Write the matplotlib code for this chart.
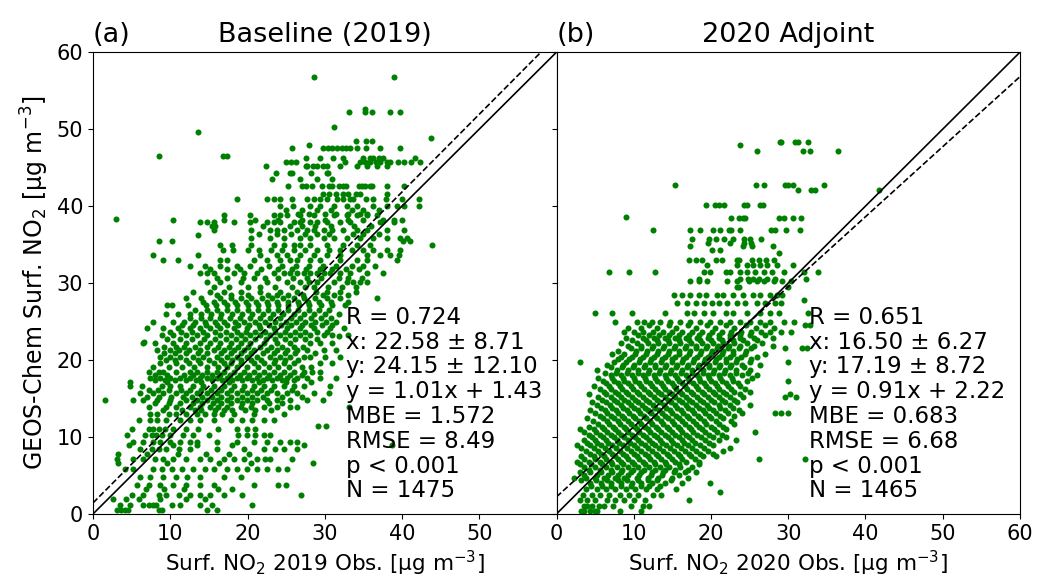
import matplotlib
matplotlib.use('Agg')
import matplotlib.pyplot as plt
import numpy as np

gc_levels_2019 = [0.5, 1.2, 2.0, 2.5, 3.2, 3.8, 4.8, 5.9, 6.6, 7.1, 7.8, 8.4, 9.0, 9.4, 10.2,
                  11.0, 11.4, 12.2, 13.0, 13.9, 14.8, 15.7, 16.6, 17.1, 17.6, 18.5, 19.6, 20.4,
                  21.3, 22.2, 22.4, 23.1, 23.2, 24.1, 25.0, 26.0, 27.1, 28.0, 28.9, 30.1, 31.3,
                  32.2, 33.0, 33.6, 34.3, 35.0, 35.5, 35.8, 36.2, 36.9, 37.4, 37.9, 38.2, 38.3,
                  38.8, 39.0, 40.0, 40.9, 41.6, 42.6, 43.5, 44.3, 45.2, 45.7, 46.3, 46.5, 47.6,
                  48.0, 48.5, 48.8, 49.6, 50.3, 52.2, 52.6, 56.8,
                  # in-between rows of the dense core
                  13.45, 14.35, 15.25, 16.15, 17.35, 18.05, 19.05, 20.0, 20.85, 21.75, 22.7,
                  23.65, 24.55, 25.5, 26.55, 27.55, 28.45, 29.5, 30.7, 31.8, 36.35, 37.35, 39.5]
obs_rows_2019 = [
    [3.1, 3.6, 4.1, 4.5, 8.5, 8.9, 14.7, 16.0],
    [3.5, 4.8, 6.5, 7.2, 7.8, 8.2, 10.2, 11.3, 13.9, 15.4, 20.6],
    [2.6, 4.3, 6.0, 8.7, 12.0, 14.5],
    [5.0, 6.5, 8.5, 9.5, 11.1, 12.6, 13.9, 15.2, 16.9, 19.3, 26.9],
    [6.8, 9.2, 11.8, 16.2, 18.0],
    [5.7, 7.2, 8.7, 10.4, 12.1, 13.9, 15.6, 20.8, 24.0, 25.0],
    [6.1, 7.4, 9.1, 10.8, 12.2, 13.9, 16.9, 19.1],
    [4.1, 5.2, 7.8, 8.9, 10.2, 11.5, 13.0, 14.5, 15.6, 17.3, 18.6, 19.9, 21.2, 22.5, 24.0, 25.1],
    [3.2, 9.6, 16.3, 20.5, 28.5],
    [3.1, 5.2, 6.5, 8.0, 9.1, 10.4, 12.1, 13.9, 15.2, 16.9, 18.2, 19.5, 21.2, 22.3, 22.9, 25.7],
    [3.2, 7.0, 11.0, 14.6, 17.6, 20.2],
    [6.1, 7.6, 8.5, 9.5, 11.1, 12.6, 16.0, 19.5, 22.1, 23.6, 24.7, 26.4],
    [4.6, 10.3, 13.5, 18.0, 27.3, 38.7],
    [5.2, 6.5, 7.8, 8.7, 10.0, 11.3, 12.6, 13.4, 16.0, 18.6, 20.8, 22.5, 24.2, 25.5, 26.4],
    [4.4, 6.7, 7.6, 8.2, 8.9, 10.0, 11.7, 13.0, 15.0, 18.8, 19.9, 21.0, 22.1, 22.9],
    [5.0, 7.2, 7.8, 8.5, 9.3, 10.4, 12.1, 13.6, 16.2, 18.6, 19.9, 21.0],
    [29.1, 30.2],
    [5.9, 7.4, 8.3, 9.5, 11.3, 12.6, 13.9, 15.6, 17.8, 19.3, 20.6, 22.1, 23.4],
    [7.4, 8.3, 9.8, 10.8, 12.1, 13.4, 14.5, 15.6, 16.7, 18.2, 20.8, 24.7],
    [7.2, 9.5, 10.8, 12.6, 13.9, 15.2, 16.2, 17.3, 19.1, 20.4, 22.1, 23.8, 25.5, 26.4, 33.1],
    [1.55, 5.2, 6.5, 8.3, 10.0, 12.1, 13.4, 14.7, 16.0, 17.3, 18.6, 19.9, 21.2, 22.5, 23.8, 25.5, 27.7, 29.8],
    [6.1, 7.8, 9.1, 10.8, 12.1, 13.4, 14.7, 16.0, 17.3, 18.6, 19.9, 21.2, 22.5, 23.8, 25.1, 26.4, 28.6, 30.5],
    [4.8, 6.3, 8.9, 10.0, 11.3, 13.0, 14.3, 15.6, 16.9, 18.2, 19.5, 20.8, 22.1, 23.4, 24.7, 26.0, 27.3, 30.7],
    [4.8, 9.6, 14.0, 17.6, 21.5, 25.0, 28.2],
    [7.4, 8.7, 10.0, 11.3, 12.6, 13.9, 14.7, 16.0, 17.3, 18.6, 19.9, 21.2, 22.5, 23.8, 25.1, 26.4, 27.7, 29.4, 31.5],
    [7.2, 8.5, 9.1, 10.8, 12.6, 13.4, 14.7, 16.0, 16.9, 18.2, 19.5, 20.8, 22.1, 23.4, 24.7, 26.0, 27.3, 28.4, 29.4],
    [8.7, 10.8, 12.4, 13.9, 15.6, 16.9, 17.8, 19.1, 20.8, 22.1, 23.4, 24.7, 26.0, 29.4, 31.0],
    [8.7, 10.0, 11.3, 13.0, 14.3, 16.0, 17.3, 18.6, 19.9, 21.2, 22.9, 24.2, 25.5, 27.3, 28.1, 30.0, 32.0],
    [8.3, 10.0, 11.1, 12.4, 13.9, 15.6, 16.9, 18.2, 19.5, 20.8, 22.5, 23.8, 25.1, 26.4, 27.7, 29.9, 31.5],
    [6.5, 8.0, 10.4, 12.1, 13.9, 15.2, 16.5, 17.8, 19.1, 20.3, 22.1, 23.8, 25.5, 28.1, 29.4, 31.0],
    [6.6],
    [31.8],
    [8.9, 10.4, 12.1, 13.4, 14.7, 16.5, 17.8, 19.1, 20.3, 21.6, 22.9, 24.2, 25.5, 26.8, 28.1, 29.9, 31.0, 33.0],
    [7.0, 9.0, 11.0, 12.5, 13.9, 15.2, 16.5, 18.2, 19.9, 21.6, 23.4, 25.1, 26.8, 28.6, 30.7, 32.5],
    [7.8, 10.3, 11.8, 13.2, 14.5, 15.8, 17.0, 18.4, 19.6, 21.0, 22.3, 23.6, 25.0, 26.3, 27.5, 28.8, 30.2, 31.4],
    [9.5, 11.0, 12.5, 14.0, 15.3, 16.6, 18.0, 19.3, 20.6, 22.0, 23.3, 24.6, 26.0, 27.3, 28.6, 30.0, 31.8],
    [9.6, 10.2, 12.3, 14.6, 15.9, 17.3, 18.6, 20.0, 21.3, 22.7, 24.0, 25.3, 26.7, 28.0, 29.5, 31.0, 32.6],
    [12.0, 14.0, 16.5, 17.8, 19.2, 20.5, 21.9, 23.2, 24.6, 26.0, 27.3, 28.7, 30.3, 32.0, 36.8],
    [13.0, 15.2, 16.9, 19.1, 21.6, 24.2, 26.4, 28.9, 30.3, 32.0, 34.0],
    [14.7, 16.5, 19.1, 22.5, 25.1, 26.8, 28.0, 29.0, 31.2, 32.9, 33.7, 34.6, 35.5],
    [13.9, 14.7, 15.6, 18.2, 19.5, 21.2, 23.4, 24.7, 25.5, 26.4, 27.3, 28.1, 29.0, 29.9, 30.7, 32.0, 33.3, 35.5, 37.6],
    [12.5, 14.5, 16.4, 18.6, 20.3, 22.8, 24.5, 26.3, 28.0, 29.8, 31.5, 33.5, 35.0, 36.5],
    [9.0, 11.0, 16.5, 17.3, 20.8, 22.5, 24.2, 25.5, 26.4, 28.1, 29.4, 32.0, 34.2, 35.5, 39.4],
    [7.8, 13.6, 21.6, 23.8, 25.1, 26.8, 28.6, 30.3, 32.0, 35.5, 37.2, 38.5, 39.6],
    [16.8, 18.1, 20.0, 21.5, 23.0, 24.5, 26.0, 27.5, 29.0, 30.5, 32.0, 33.5, 34.9, 36.2, 38.0, 39.8],
    [16.5, 18.0, 20.4, 23.4, 24.7, 26.0, 26.8, 28.1, 30.3, 32.4, 34.2, 35.9, 43.9],
    [8.5, 10.2, 40.1, 41.0],
    [20.4, 22.9, 24.7, 26.8, 28.1, 29.9, 31.2, 32.9, 34.6, 36.3, 38.1, 39.8, 40.7],
    [13.6],
    [15.6, 20.4, 22.9, 23.8, 24.7, 26.4, 27.7, 28.6, 29.9, 31.0, 32.4, 34.2, 35.5, 38.1, 40.2],
    [15.4, 15.8],
    [13.9, 14.7, 15.6, 18.2, 20.3, 22.5, 23.4, 24.2, 26.0, 26.8, 28.1, 29.0, 30.3, 32.0, 33.3, 37.2, 38.9],
    [10.4, 16.9, 21.0, 24.0, 27.0, 30.0, 33.0, 35.0, 37.5, 39.0, 40.0],
    [3.0],
    [16.9, 20.3, 23.4, 24.2, 25.1, 26.8, 28.6, 31.2, 32.9, 34.2, 35.5, 36.8],
    [26.5, 28.0, 30.0, 31.5, 33.0, 34.5, 35.5],
    [24.2, 25.9, 28.1, 29.4, 31.2, 32.9, 34.2, 36.3, 38.1, 39.4, 40.2, 42.2],
    [18.6, 22.5, 23.4, 24.2, 25.8, 27.7, 28.6, 29.4, 30.3, 31.6, 32.4, 33.3, 33.7, 35.3, 36.3, 37.9, 40.0, 42.2],
    [29.8, 30.5, 31.5, 32.3, 33.0, 34.0, 34.5, 38.0],
    [25.2, 27.0, 27.6, 28.3, 29.6, 30.5, 31.0, 31.8, 32.3, 32.7, 34.4, 34.8, 35.2, 35.9, 36.1, 38.1, 40.2],
    [23.2, 26.8, 29.0, 31.0],
    [23.7, 25.5, 25.7, 28.2, 30.3, 30.4],
    [22.4, 27.6, 27.7, 28.5, 29.0, 29.8, 30.3, 32.0, 34.2, 35.5, 36.8, 38.1],
    [25.0, 25.6, 26.3, 32.6, 34.5, 35.2, 35.9, 36.6, 37.2, 38.0, 38.4, 39.5, 40.3, 41.2, 42.3],
    [27.6, 29.4, 31.1, 32.4, 35.0, 35.8, 36.3, 37.0, 37.6, 41.7],
    [8.5, 16.8, 17.4],
    [25.7, 29.8, 30.4, 31.0, 31.6, 32.2, 32.8, 33.3, 34.2, 35.3, 37.2, 39.8],
    [28.0],
    [34.0, 35.3, 36.1],
    [43.8],
    [13.6],
    [31.2],
    [33.1, 35.2, 36.1, 38.4, 39.8],
    [35.2],
    [28.6, 39.0],
    # in-between rows of the dense core
    [9.0, 11.5, 13.2, 14.0, 15.8, 17.0, 18.0, 19.7, 21.0, 23.0],
    [8.0, 9.8, 11.3, 12.9, 14.1, 15.5, 16.6, 17.9, 19.3, 20.6, 22.8, 24.5],
    [7.0, 8.6, 10.1, 11.6, 12.8, 14.1, 15.4, 16.6, 17.9, 19.3, 20.6, 22.0, 24.4, 27.0],
    [7.2, 8.4, 9.8, 11.4, 12.6, 14.0, 15.3, 16.6, 17.9, 19.3, 20.6, 21.8, 23.0, 25.8],
    [8.0, 9.3, 10.6, 12.0, 13.3, 15.4, 16.7, 18.0, 19.3, 20.6, 22.0, 23.2, 24.4, 26.0],
    [8.0, 9.6, 11.8, 13.0, 14.1, 15.4, 16.4, 17.7, 19.0, 20.2, 21.5, 22.8, 24.2, 25.5, 27.0],
    [7.8, 9.8, 11.5, 13.1, 14.8, 16.2, 17.4, 18.6, 19.9, 21.4, 22.8, 24.0, 25.4, 27.0, 28.2],
    [9.4, 10.6, 12.0, 13.6, 15.0, 16.6, 18.0, 19.2, 20.5, 21.8, 23.5, 24.9, 26.5],
    [9.2, 10.6, 12.0, 13.6, 14.8, 16.6, 17.9, 19.2, 20.4, 22.0, 23.4, 24.8, 26.2, 28.8],
    [9.2, 10.7, 11.8, 13.2, 14.8, 16.2, 17.6, 18.8, 20.1, 21.6, 23.0, 24.4, 26.0, 27.2],
    [9.6, 11.2, 12.8, 14.4, 15.8, 17.2, 18.5, 19.7, 21.0, 22.4, 23.6, 24.9, 26.2, 27.5, 29.0],
    [10.0, 11.4, 12.8, 14.2, 15.8, 17.2, 18.6, 19.8, 21.0, 22.3, 23.6, 24.9, 26.2, 27.5, 29.0, 30.3],
    [11.5, 13.0, 14.6, 16.0, 17.4, 18.8, 20.2, 21.5, 22.8, 24.3, 25.6, 27.0, 28.2, 29.6, 31.0],
    [12.5, 14.0, 15.2, 16.4, 17.7, 19.0, 20.3, 21.6, 22.9, 24.2, 25.6, 26.8, 28.2, 29.5, 30.8],
    [13.2, 14.8, 16.0, 17.3, 18.6, 20.0, 21.3, 22.7, 24.0, 25.3, 26.6, 28.0, 29.3, 30.5],
    [14.2, 15.6, 17.0, 18.4, 19.8, 21.1, 22.5, 23.8, 25.2, 26.5, 27.8, 29.2, 30.8, 33.0],
    [16.0, 17.8, 20.0, 22.6, 23.8, 25.2, 27.2, 29.8, 31.2, 33.0],
    [15.6, 17.6, 20.0, 21.6, 23.6, 25.8, 27.4, 28.6, 30.4, 32.2, 34.0],
    [16.0, 17.4, 19.4, 20.8, 22.2, 24.0, 25.9, 27.7, 29.5, 31.8, 33.0, 34.8],
    [15.2, 17.4, 19.0, 21.8, 24.0, 25.8, 27.6, 29.4, 31.0, 32.7, 34.4],
    [21.5, 23.8, 25.6, 27.4, 29.0, 30.6, 33.6, 35.0, 37.0],
    [22.0, 25.5, 27.0, 28.8, 30.8, 33.8, 36.0],
    [25.0, 27.0, 29.0, 30.8, 33.5, 35.0, 37.0],
]

gc_levels_2020 = [0.4, 1.0, 1.8, 2.5, 2.9, 3.3, 4.0, 4.7, 5.4, 6.1, 6.8, 7.2, 7.5, 8.2, 8.9, 9.6,
                  10.3, 10.7, 11.0, 11.7, 12.4, 13.1, 13.8, 14.5, 15.2, 15.9, 16.6, 17.3, 18.0,
                  18.7, 19.4, 19.8, 20.1, 20.8, 21.5, 22.2, 22.9, 23.7, 24.6, 25.0, 26.1, 27.4,
                  27.8, 28.4, 29.5, 30.2, 30.5, 31.4, 32.3, 33.0, 33.9, 34.3, 34.8, 35.2, 35.7,
                  36.9, 38.4, 38.6, 40.1, 42.1, 42.7, 47.2, 48.0, 48.3,
                  # in-between rows of the dense core
                  3.65, 4.35, 5.05, 5.75, 6.45, 7.15, 7.85, 8.55, 9.25, 9.95, 10.65, 11.35,
                  12.05, 12.75, 13.45, 14.15, 14.85, 15.55, 16.25, 16.95, 17.65, 18.35, 19.05,
                  19.75, 20.45, 21.15, 21.85, 22.55, 23.3, 24.2]
obs_rows_2020 = [
    [3.2, 3.6, 4.4, 5.0, 5.3, 8.2, 11.0],
    [3.5, 4.0, 4.6, 5.5, 6.2, 7.3, 9.6, 11.2, 12.0],
    [3.0, 4.0, 5.0, 6.5, 7.6, 8.8, 10.0, 11.5, 17.1],
    [3.4, 4.6, 5.6, 6.8, 8.2, 9.4, 10.6, 12.5, 13.5],
    [21.2],
    [3.8, 5.2, 6.4, 7.6, 9.0, 10.2, 11.6, 13.0, 15.5],
    [4.4, 5.8, 7.0, 8.4, 9.8, 11.0, 12.3, 14.0, 16.2, 19.9],
    [2.2, 3.8, 5.0, 6.2, 7.6, 8.8, 10.4, 11.8, 13.2, 15.0, 17.0],
    [3.0, 4.4, 5.8, 7.2, 8.4, 9.6, 11.0, 12.4, 13.8, 15.2, 16.6, 18.0],
    [3.6, 5.0, 6.4, 7.8, 9.2, 10.6, 12.0, 13.4, 14.6, 16.0, 17.5],
    [2.6, 4.2, 5.6, 7.0, 8.4, 9.8, 11.2, 12.6, 14.0, 15.4, 16.8, 18.4],
    [26.2, 32.2],
    [3.2, 4.8, 6.2, 7.6, 9.0, 10.4, 11.8, 13.2, 14.6, 16.0, 17.4, 19.0, 20.6],
    [3.8, 5.4, 6.8, 8.2, 9.6, 11.0, 12.4, 13.8, 15.2, 16.6, 18.0, 19.6, 21.5],
    [2.6, 4.4, 5.8, 7.2, 8.6, 10.0, 11.4, 12.8, 14.2, 15.6, 17.0, 18.6, 20.2],
    [3.6, 5.0, 6.4, 7.8, 9.2, 10.6, 12.0, 13.4, 14.8, 16.2, 17.6, 19.2, 21.0, 23.2],
    [4.2, 5.6, 7.0, 8.4, 9.8, 11.2, 12.6, 14.0, 15.4, 16.8, 18.2, 19.8, 21.4],
    [25.7],
    [3.0, 4.8, 6.2, 7.6, 9.0, 10.4, 11.8, 13.2, 14.6, 16.0, 17.4, 18.8, 20.4, 22.0],
    [5.4, 6.8, 8.2, 9.6, 11.0, 12.4, 13.8, 15.2, 16.6, 18.0, 19.4, 21.0, 23.0],
    [4.0, 6.0, 7.4, 8.8, 10.2, 11.6, 13.0, 14.4, 15.8, 17.2, 18.6, 20.0, 21.6],
    [5.0, 6.6, 8.0, 9.4, 10.8, 12.2, 13.6, 15.0, 16.4, 17.8, 19.2, 20.6, 22.2, 24.0, 28.3, 29.1, 30.0],
    [5.8, 7.2, 8.6, 10.0, 11.4, 12.8, 14.2, 15.6, 17.0, 18.4, 19.8, 21.2, 22.8],
    [4.6, 6.4, 7.8, 9.2, 10.6, 12.0, 13.4, 14.8, 16.2, 17.6, 19.0, 20.4, 21.8, 23.4],
    [5.4, 7.0, 8.4, 9.8, 11.2, 12.6, 14.0, 15.4, 16.8, 18.2, 19.6, 21.0, 22.4, 24.2, 29.6, 31.0],
    [6.2, 7.6, 9.0, 10.4, 11.8, 13.2, 14.6, 16.0, 17.4, 18.8, 20.2, 21.6, 23.0, 25.0],
    [4.8, 6.8, 8.2, 9.6, 11.0, 12.4, 13.8, 15.2, 16.6, 18.0, 19.4, 20.8, 22.2, 23.8],
    [6.0, 7.4, 8.8, 10.2, 11.6, 13.0, 14.4, 15.8, 17.2, 18.6, 20.0, 21.4, 22.8, 24.6, 30.0],
    [7.0, 8.4, 9.8, 11.2, 12.6, 14.0, 15.4, 16.8, 18.2, 19.6, 21.0, 22.4, 24.0, 26.0],
    [5.2, 7.8, 9.2, 10.6, 12.0, 13.4, 14.8, 16.2, 17.6, 19.0, 20.4, 21.8, 23.2, 25.0],
    [6.6, 8.6, 10.0, 11.4, 12.8, 14.2, 15.6, 17.0, 18.4, 19.8, 21.2, 22.6, 24.0, 26.4],
    [3.0, 30.0],
    [8.0, 9.4, 10.8, 12.2, 13.6, 15.0, 16.4, 17.8, 19.2, 20.6, 22.0, 23.4, 25.2],
    [7.2, 8.8, 10.2, 11.6, 13.0, 14.4, 15.8, 17.2, 18.6, 20.0, 21.4, 22.8, 24.4, 27.0],
    [9.6, 11.0, 12.4, 13.8, 15.2, 16.6, 18.0, 19.4, 20.8, 22.2, 23.6, 25.2, 29.6, 31.8, 32.4],
    [8.4, 10.4, 11.8, 13.2, 14.6, 16.0, 17.4, 18.8, 20.2, 21.6, 23.0, 24.6, 26.6],
    [9.0, 11.2, 12.6, 14.0, 15.4, 16.8, 18.2, 19.6, 21.0, 22.4, 23.8, 25.6, 28.0],
    [8.7, 10.0, 11.2, 12.5, 13.8, 15.0, 16.3, 17.6, 18.8, 20.1, 21.4, 22.6, 23.9, 25.2, 26.5, 27.7, 29.0, 30.3],
    [12.0, 14.5, 17.0, 19.5, 22.0, 24.5, 27.0, 32.2, 32.8],
    [7.6, 10.4, 11.3, 12.4, 13.4, 14.7, 16.0, 17.3, 18.6, 19.9, 21.2, 22.5, 23.8, 25.1, 26.4, 27.7, 29.4, 30.7],
    [5.0, 7.2, 9.8, 14.1, 16.9, 17.8, 19.1, 20.3, 21.9, 22.9, 24.7, 26.4, 27.7, 28.8, 32.6],
    [15.6, 16.9, 18.0, 19.1, 20.1, 21.0, 22.1, 23.4, 24.4, 25.9, 27.0, 28.3, 29.0],
    [32.0],
    [15.2, 16.3, 17.3, 18.4, 19.3, 20.8, 21.6, 22.9, 24.2, 25.5, 26.4, 27.7, 28.5, 29.2],
    [23.4, 23.6, 30.0],
    [17.3, 18.4, 19.5, 22.1, 23.4, 24.9, 25.9, 26.8, 28.1, 29.2, 30.3],
    [18.5, 23.7, 24.8, 25.5, 26.2, 27.3, 28.3, 32.3],
    [6.8, 9.4, 12.8, 19.1, 19.9, 21.9, 22.5, 23.8, 24.7, 25.7, 26.8, 27.9, 29.4, 32.0, 33.9],
    [19.5, 23.4, 24.7, 25.5, 26.4, 27.2, 28.5, 30.6],
    [17.2, 18.0, 18.8, 20.6, 21.4, 23.4, 23.6, 25.3, 26.2, 27.1, 28.2],
    [28.8],
    [20.1, 21.2],
    [17.3, 24.2, 25.3, 28.0],
    [19.6, 22.5, 24.3, 25.2],
    [17.5, 19.7, 20.6, 21.7, 22.8, 24.3, 25.0, 26.5],
    [12.5, 17.3, 18.6, 20.3, 21.2, 22.3, 22.6, 23.8, 27.8, 28.3, 29.7, 31.5],
    [22.6, 23.6, 24.1, 24.4, 28.8, 29.5, 30.6, 31.7],
    [9.0],
    [19.4, 20.5, 21.1, 21.7, 24.3, 24.7, 26.3, 26.7],
    [31.2, 32.9, 33.4, 41.7],
    [15.3, 25.8, 26.8, 29.6, 30.0, 30.6, 34.6],
    [26.0, 31.9, 32.8, 36.5],
    [23.8],
    [28.9, 29.1, 30.9, 31.3, 32.5],
    # in-between rows of the dense core
    [4.5, 5.9, 7.1, 8.3, 9.6, 10.9, 12.0, 13.4],
    [3.2, 5.1, 6.5, 7.9, 9.1, 10.5, 11.9, 13.0, 14.8],
    [3.6, 5.2, 6.7, 8.0, 9.3, 10.7, 12.2, 13.6, 15.9],
    [4.2, 5.6, 7.1, 8.5, 9.9, 11.3, 12.7, 14.1, 15.4, 17.0],
    [3.1, 4.5, 5.9, 7.2, 8.6, 10.0, 11.4, 12.8, 14.2, 15.8, 18.5],
    [3.6, 5.0, 6.4, 7.9, 9.3, 10.7, 12.1, 13.5, 14.9, 16.3, 17.9],
    [4.4, 5.8, 7.2, 8.6, 10.0, 11.5, 12.9, 14.3, 15.7, 17.1, 18.6, 20.3],
    [3.2, 4.9, 6.3, 7.7, 9.1, 10.4, 11.9, 13.3, 14.7, 16.1, 17.6, 19.1, 22.4],
    [4.0, 5.3, 6.7, 8.1, 9.5, 10.9, 12.3, 13.7, 15.1, 16.5, 17.9, 19.7],
    [4.6, 6.0, 7.4, 8.8, 10.2, 11.6, 13.0, 14.4, 15.8, 17.2, 18.7, 20.3, 22.0],
    [3.6, 5.1, 6.5, 7.9, 9.3, 10.7, 12.1, 13.5, 14.9, 16.3, 17.7, 19.2, 20.8],
    [4.2, 5.9, 7.3, 8.7, 10.1, 11.5, 12.9, 14.3, 15.7, 17.1, 18.5, 20.0, 21.6],
    [4.7, 6.5, 7.9, 9.3, 10.7, 12.1, 13.5, 14.9, 16.3, 17.7, 19.1, 20.6, 22.6],
    [5.6, 7.1, 8.5, 9.9, 11.3, 12.7, 14.1, 15.5, 16.9, 18.3, 19.7, 21.2, 23.0],
    [4.4, 6.3, 7.7, 9.1, 10.5, 11.9, 13.3, 14.7, 16.1, 17.5, 18.9, 20.3, 21.8, 23.6],
    [5.2, 6.9, 8.3, 9.7, 11.1, 12.5, 13.9, 15.3, 16.7, 18.1, 19.5, 21.0, 22.5, 25.0],
    [5.9, 7.4, 8.8, 10.2, 11.6, 13.0, 14.4, 15.8, 17.2, 18.6, 20.0, 21.4, 23.0],
    [4.2, 6.4, 7.9, 9.3, 10.7, 12.1, 13.5, 14.9, 16.3, 17.7, 19.1, 20.5, 22.0, 23.8, 30.2],
    [5.6, 7.0, 8.5, 9.9, 11.3, 12.7, 14.1, 15.5, 16.9, 18.3, 19.7, 21.1, 22.6, 24.4],
    [6.4, 7.9, 9.3, 10.7, 12.1, 13.5, 14.9, 16.3, 17.7, 19.1, 20.5, 21.9, 23.5],
    [5.4, 7.2, 8.6, 10.0, 11.4, 12.8, 14.2, 15.6, 17.0, 18.4, 19.8, 21.2, 22.7, 25.3],
    [6.3, 7.7, 9.1, 10.5, 11.9, 13.3, 14.7, 16.1, 17.5, 18.9, 20.3, 21.7, 23.3, 24.8],
    [7.1, 8.5, 9.9, 11.3, 12.7, 14.1, 15.5, 16.9, 18.3, 19.7, 21.1, 22.5, 24.3],
    [7.4, 9.0, 10.7, 12.1, 13.5, 14.9, 16.3, 17.7, 19.1, 20.5, 21.9, 23.3, 25.0],
    [8.4, 9.8, 11.2, 12.6, 14.0, 15.4, 16.8, 18.2, 19.6, 21.0, 22.4, 23.9, 26.0],
    [8.0, 10.3, 11.7, 13.1, 14.5, 15.9, 17.3, 18.7, 20.1, 21.5, 22.9, 24.5],
    [9.2, 11.0, 12.5, 13.9, 15.3, 16.7, 18.1, 19.5, 20.9, 22.3, 23.8, 25.6, 28.0],
    [9.8, 11.6, 13.0, 14.4, 15.8, 17.2, 18.6, 20.0, 21.4, 22.8, 24.2, 26.0],
    [10.5, 12.0, 13.3, 14.6, 15.9, 17.2, 18.5, 19.8, 21.1, 22.4, 23.7, 25.0, 27.0],
    [9.3, 11.0, 13.0, 15.5, 18.0, 20.5, 23.0, 25.8, 28.2],
]

titles = ["Baseline (2019)", "2020 Adjoint"]
panel_tags = ["(a)", "(b)"]
xlabels = ["Surf. NO$_2$ 2019 Obs. [μg m$^{-3}$]", "Surf. NO$_2$ 2020 Obs. [μg m$^{-3}$]"]
fit_slope = [1.01, 0.91]
fit_intercept = [1.43, 2.22]
stats_text = [
    "R = 0.724\nx: 22.58 ± 8.71\ny: 24.15 ± 12.10\ny = 1.01x + 1.43\nMBE = 1.572\nRMSE = 8.49\np < 0.001\nN = 1475",
    "R = 0.651\nx: 16.50 ± 6.27\ny: 17.19 ± 8.72\ny = 0.91x + 2.22\nMBE = 0.683\nRMSE = 6.68\np < 0.001\nN = 1465",
]


def expand(levels, rows):
    xs, ys = [], []
    for lev, row in zip(levels, rows):
        xs.extend(row)
        ys.extend([lev] * len(row))
    return np.array(xs), np.array(ys)


data = [expand(gc_levels_2019, obs_rows_2019), expand(gc_levels_2020, obs_rows_2020)]

fig, axes = plt.subplots(1, 2, figsize=(10.37, 5.86), dpi=100, sharey=True)
fig.subplots_adjust(left=0.0897, right=0.9836, top=0.911, bottom=0.123, wspace=0)

line = np.array([0, 60])
for i, ax in enumerate(axes):
    x, y = data[i]
    ax.scatter(x, y, s=19, color='green', linewidths=0, zorder=2)
    ax.plot(line, line, color='black', lw=1.2, zorder=3)
    ax.plot(line, fit_slope[i] * line + fit_intercept[i], color='black', lw=1.2,
            ls='--', zorder=3)
    ax.set_xlim(0, 60)
    ax.set_ylim(0, 60)
    ax.set_title(titles[i], fontsize=19.5, pad=7)
    ax.set_title(panel_tags[i], fontsize=19.5, loc='left', pad=7)
    ax.set_xlabel(xlabels[i], fontsize=15.5)
    ax.tick_params(labelsize=15)
    ax.text(0.545, 0.025, stats_text[i], transform=ax.transAxes, fontsize=16.5,
            va='bottom', ha='left', linespacing=1.1, zorder=4)

axes[0].set_xticks([0, 10, 20, 30, 40, 50])
axes[1].set_xticks([0, 10, 20, 30, 40, 50, 60])
axes[0].set_yticks([0, 10, 20, 30, 40, 50, 60])
axes[0].set_ylabel("GEOS-Chem Surf. NO$_2$ [μg m$^{-3}$]", fontsize=17)

fig.savefig("out.png", dpi=100)
